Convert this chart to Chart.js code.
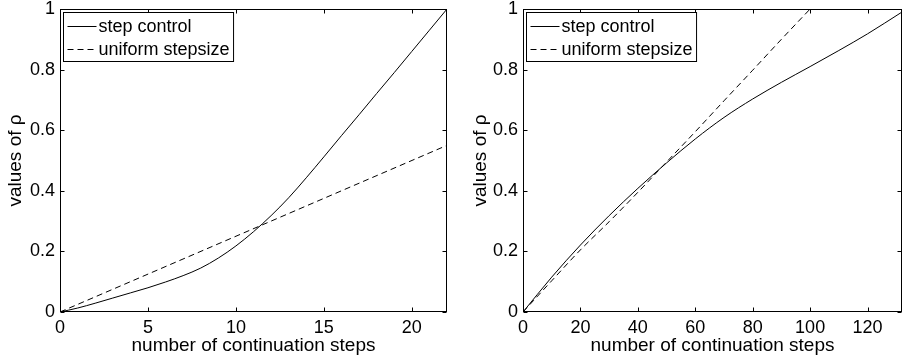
<!DOCTYPE html>
<html>
<head>
<meta charset="utf-8">
<script src="https://cdn.jsdelivr.net/npm/chart.js@4.4.1/dist/chart.umd.min.js"></script>
<style>
    html, body { margin: 0; padding: 0; background: #fff; }
    #wrap { position: relative; width: 902px; height: 357px; }
    .panel { position: absolute; top: 0; width: 451px; height: 357px; }
</style>
</head>
<body>
<div id="wrap">
    <div class="panel" style="left:0"><canvas id="leftChart"></canvas></div>
    <div class="panel" style="left:451px"><canvas id="rightChart"></canvas></div>
</div>
<script>
// left panel
const leftSteps        = [0, 1, 2, 3, 4, 5, 6, 7, 8, 9, 10, 11, 12, 13, 14, 15, 16, 17, 18, 19, 20, 21, 22];
const leftStepControl  = [0, 0.013, 0.029, 0.046, 0.063, 0.080, 0.099, 0.120, 0.145, 0.178, 0.218, 0.265, 0.318, 0.377, 0.443, 0.512, 0.582, 0.651, 0.721, 0.790, 0.860, 0.930, 1.0];
const leftUniformSteps = [0, 11.5, 22];
const leftUniform      = [0, 0.2875, 0.55];
const leftXTicks       = [0, 5, 10, 15, 20];

// right panel
const rightSteps        = [0, 10, 20, 30, 40, 50, 60, 70, 80, 90, 100, 110, 120, 132];
const rightStepControl  = [0, 0.115, 0.221, 0.318, 0.408, 0.492, 0.571, 0.642, 0.703, 0.758, 0.810, 0.863, 0.918, 0.990];
const rightUniformSteps = [0, 10, 20, 30, 40, 50, 60, 70, 80, 90, 100];
const rightUniform      = [0, 0.103, 0.205, 0.298, 0.395, 0.495, 0.595, 0.697, 0.798, 0.900, 1.0];
const rightXTicks       = [0, 20, 40, 60, 80, 100, 120];

const yTicks = [0, 0.2, 0.4, 0.6, 0.8, 1];
const seriesNames = ['step control', 'uniform stepsize'];

const FONT = '"Liberation Sans", Arial, Helvetica, sans-serif';

function pts(xs, ys) {
    return xs.map((x, i) => ({ x: x, y: ys[i] }));
}

// frame, inward tick marks and the boxed legend, matlab style
const matlabFrame = {
    id: 'matlabFrame',
    afterDatasetsDraw(chart) {
        const ctx = chart.ctx, a = chart.chartArea;
        const xs = chart.scales.x, ys = chart.scales.y;
        const L = Math.round(a.left) + 0.5, R = Math.round(a.right) - 0.5;
        const T = Math.round(a.top) + 0.5, B = Math.round(a.bottom) - 0.5;
        ctx.save();
        ctx.strokeStyle = '#000';
        ctx.lineWidth = 1;
        ctx.setLineDash([]);
        ctx.strokeRect(L, T, R - L, B - T);
        ctx.beginPath();
        xs.ticks.forEach(t => {
            const px = Math.round(xs.getPixelForValue(t.value)) + 0.5;
            ctx.moveTo(px, B); ctx.lineTo(px, B - 4);
            ctx.moveTo(px, T); ctx.lineTo(px, T + 4);
        });
        ys.ticks.forEach(t => {
            const py = Math.round(ys.getPixelForValue(t.value)) + 0.5;
            ctx.moveTo(L, py); ctx.lineTo(L + 4, py);
            ctx.moveTo(R, py); ctx.lineTo(R - 4, py);
        });
        ctx.stroke();

        // legend
        ctx.font = '18px ' + FONT;
        const ds = chart.data.datasets;
        const textW = Math.max(...ds.map(d => ctx.measureText(d.label).width));
        const bx = L + 3, by = T + 3, bw = 36 + textW + 3, bh = 49;
        ctx.fillStyle = '#fff';
        ctx.fillRect(bx, by, bw, bh);
        ctx.strokeRect(bx, by, bw, bh);
        ds.forEach((d, i) => {
            const cy = Math.round(by + 13 + i * 23) + 0.5;
            ctx.beginPath();
            ctx.setLineDash(d.borderDash || []);
            ctx.moveTo(bx + 4, cy); ctx.lineTo(bx + 33, cy);
            ctx.stroke();
            ctx.setLineDash([]);
            ctx.fillStyle = '#000';
            ctx.textBaseline = 'middle';
            ctx.fillText(d.label, bx + 35, cy + 1);
        });
        ctx.restore();
    }
};

function makeChart(canvas, xMax, xTicks, control, uniform, yWidth, pad) {
    return new Chart(canvas, {
        type: 'line',
        data: {
            datasets: [
                { label: seriesNames[0], data: control, borderColor: '#000', borderWidth: 1, pointRadius: 0, cubicInterpolationMode: 'monotone' },
                { label: seriesNames[1], data: uniform, borderColor: '#000', borderWidth: 1, borderDash: [6, 4], pointRadius: 0, cubicInterpolationMode: 'monotone' }
            ]
        },
        options: {
            responsive: false,
            animation: false,
            events: [],
            layout: { padding: pad },
            plugins: { legend: { display: false }, tooltip: { enabled: false } },
            scales: {
                x: {
                    type: 'linear', min: 0, max: xMax,
                    grid: { display: false, drawTicks: false },
                    border: { display: false },
                    afterBuildTicks: s => { s.ticks = xTicks.map(v => ({ value: v })); },
                    afterFit: s => { s.height = 45; s.paddingLeft = 0; s.paddingRight = 0; },
                    ticks: { color: '#000', font: { family: FONT, size: 18 }, padding: 5, maxRotation: 0, autoSkip: false, callback: v => String(v) },
                    title: { display: true, text: 'number of continuation steps', color: '#000', font: { family: FONT, size: 19 }, padding: { top: 0, bottom: 0 } }
                },
                y: {
                    min: 0, max: 1,
                    grid: { display: false, drawTicks: false },
                    border: { display: false },
                    afterBuildTicks: s => { s.ticks = yTicks.map(v => ({ value: v })); },
                    afterFit: s => { s.width = yWidth; s.paddingTop = 0; s.paddingBottom = 0; },
                    ticks: { color: '#000', font: { family: FONT, size: 18 }, padding: 5, autoSkip: false, callback: v => String(v) },
                    title: { display: true, text: 'values of ρ', color: '#000', font: { family: FONT, size: 19 }, padding: { top: 4, bottom: 4 } }
                }
            }
        },
        plugins: [matlabFrame]
    });
}

function sizeCanvas(c) { c.width = 451; c.height = 357; c.style.width = '451px'; c.style.height = '357px'; }
const lc = document.getElementById('leftChart');
const rc = document.getElementById('rightChart');
sizeCanvas(lc); sizeCanvas(rc);

makeChart(lc, 22, leftXTicks, pts(leftSteps, leftStepControl), pts(leftUniformSteps, leftUniform), 60,
    { top: 9, right: 4, bottom: 0, left: 0 });
makeChart(rc, 132, rightXTicks, pts(rightSteps, rightStepControl), pts(rightUniformSteps, rightUniform), 58,
    { top: 9, right: 0, bottom: 0, left: 14 });
</script>
</body>
</html>
